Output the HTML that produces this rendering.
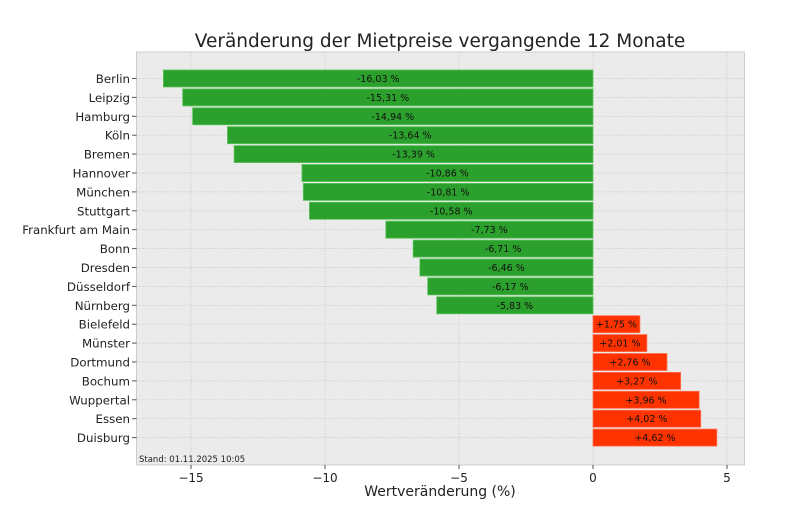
<!DOCTYPE html>
<html><head><meta charset="utf-8"><style>
body{margin:0;background:#fff;}
svg text{font-family:"DejaVu Sans","Liberation Sans",sans-serif;}
</style></head><body>
<svg id="chart" width="800" height="517" viewBox="0 0 800 517" xmlns="http://www.w3.org/2000/svg">
<rect x="0" y="0" width="800" height="517" fill="#fff"/>
<text x="440" y="47" text-anchor="middle" font-size="18.5" fill="#222">Veränderung der Mietpreise vergangende 12 Monate</text>
<rect x="136.5" y="52" width="608" height="413" fill="#ebebeb" stroke="#ccc"/>
<g id="grid"></g><g id="bars"></g><g id="axes"></g>
<text x="139" y="462" font-size="8.5" fill="#222">Stand: 01.11.2025 10:05</text>
<text x="440" y="496" text-anchor="middle" font-size="14" fill="#222">Wertveränderung (%)</text>
</svg>
<script>
const cities=["Berlin","Leipzig","Hamburg","Köln","Bremen","Hannover","München","Stuttgart","Frankfurt am Main","Bonn","Dresden","Düsseldorf","Nürnberg","Bielefeld","Münster","Dortmund","Bochum","Wuppertal","Essen","Duisburg"];
const changes=[-16.03,-15.31,-14.94,-13.64,-13.39,-10.86,-10.81,-10.58,-7.73,-6.71,-6.46,-6.17,-5.83,1.75,2.01,2.76,3.27,3.96,4.02,4.62];
const xTicks=[-15,-10,-5,0,5];
const NS="http://www.w3.org/2000/svg";
const x=v=>593+v*26.8;
const y=i=>78.5+i*18.9;
const bh=17;
function mk(t,a,p){const e=document.createElementNS(NS,t);for(const k in a)e.setAttribute(k,a[k]);p.appendChild(e);return e;}
const grid=document.getElementById('grid'),bars=document.getElementById('bars'),axes=document.getElementById('axes');
xTicks.forEach(t=>{
  const g=mk('line',{x1:x(t),x2:x(t),y1:52,y2:465,stroke:'#c8c8c8','stroke-dasharray':'1.5,1.5','stroke-width':0.7},grid);
  
  
  const tk=mk('line',{x1:x(t),x2:x(t),y1:465,y2:469,stroke:'#555'},axes);
  
  
  const lb=mk('text',{x:x(t),y:482,'text-anchor':'middle','font-size':12,fill:'#222'},axes);
  lb.textContent=(t<0?'\u2212'+Math.abs(t):t);
  
  
});
cities.forEach((c,i)=>{
  const g=mk('line',{x1:136.5,x2:744.5,y1:y(i),y2:y(i),stroke:'#c8c8c8','stroke-dasharray':'1.5,1.5','stroke-width':0.7},grid);
  
  
  const v=changes[i];
  const x0=Math.min(x(0),x(v)),w=Math.abs(x(v)-x(0));
  const r=mk('rect',{x:x0,y:y(i)-bh/2,width:w,height:bh,fill:v<0?'#2ca02c':'#ff3300',stroke:v<0?'#5cc35c':'#ff7050','stroke-width':0.8},bars);
  
  
  const vl=mk('text',{x:x0+w/2,y:y(i)+3.5,'text-anchor':'middle','font-size':9.5,fill:'#111'},bars);
  vl.textContent=(v>0?'+':'')+v.toFixed(2).replace('.',',')+' %';
  
  
  const tk=mk('line',{x1:132,x2:136.5,y1:y(i),y2:y(i),stroke:'#555'},axes);
  
  
  const cl=mk('text',{x:130,y:y(i)+4.5,'text-anchor':'end','font-size':11.8,fill:'#222'},axes);
  cl.textContent=c;
  
  
});
</script>
</body></html>
